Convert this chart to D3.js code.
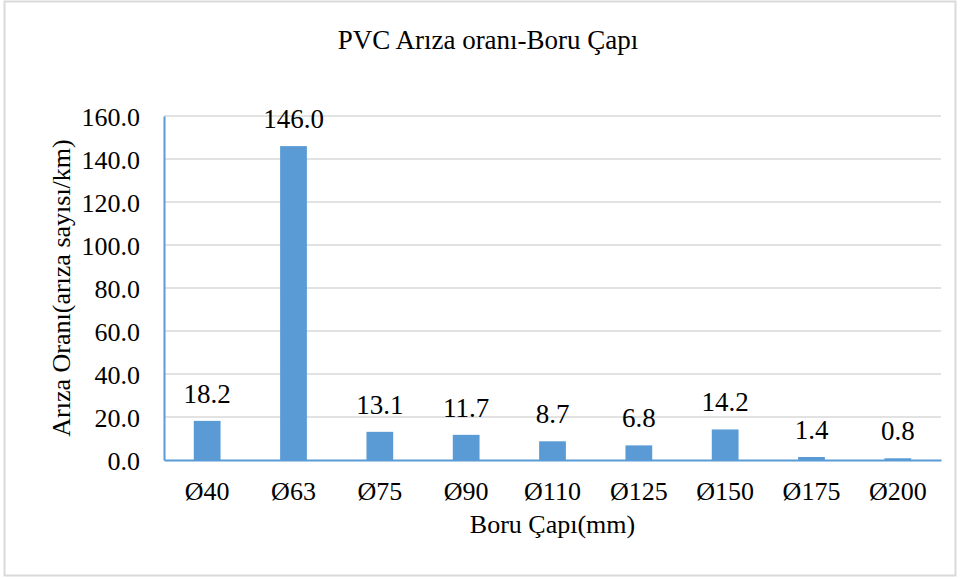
<!DOCTYPE html>
<html>
<head>
<meta charset="utf-8">
<script src="https://cdn.jsdelivr.net/npm/d3@7"></script>
<style>
  body { margin: 0; background: #fff; }
</style>
</head>
<body>
<div id="chart"></div>
<script>
const categories = ['Ø40', 'Ø63', 'Ø75', 'Ø90', 'Ø110', 'Ø125', 'Ø150', 'Ø175', 'Ø200'];
const values = [18.2, 146.0, 13.1, 11.7, 8.7, 6.8, 14.2, 1.4, 0.8];
const yTicks = [0, 20, 40, 60, 80, 100, 120, 140, 160];

const w = 960;
const h = 579;
const padL = 164, padR = 941, padT = 116, padB = 460;
const blue = '#5b9bd5';
const serif = '"Liberation Serif", "Times New Roman", "DejaVu Serif", serif';

const svg = d3.select('#chart')
              .append('svg')
              .attr('width', w)
              .attr('height', h)
              .style('font-family', serif);

// outer frame
svg.append('rect')
   .attr('x', 4.5).attr('y', 1.5)
   .attr('width', 951).attr('height', 574)
   .attr('fill', '#fff')
   .attr('stroke', '#d9d9d9')
   .attr('stroke-width', 2);

//Scales
const xScale = d3.scaleBand()
                 .domain(categories)
                 .range([padL, padR])
                 .paddingInner(0.69)
                 .paddingOuter(0.345);

const yScale = d3.scaleLinear()
                 .domain([0, 160])
                 .range([padB, padT]);

//Gridlines
svg.append('g')
   .selectAll('line')
   .data(yTicks.slice(1))
   .enter()
   .append('line')
   .attr('x1', padL).attr('x2', padR)
   .attr('y1', d => yScale(d)).attr('y2', d => yScale(d))
   .attr('stroke', '#d9d9d9')
   .attr('stroke-width', 1.5);

//Bars
svg.selectAll('rect.bar')
   .data(values)
   .enter()
   .append('rect')
   .attr('class', 'bar')
   .attr('x', (d, i) => xScale(categories[i]))
   .attr('y', d => yScale(d))
   .attr('width', xScale.bandwidth())
   .attr('height', d => padB - yScale(d))
   .attr('fill', blue);

//Data labels
svg.selectAll('text.val')
   .data(values)
   .enter()
   .append('text')
   .attr('class', 'val')
   .attr('x', (d, i) => xScale(categories[i]) + xScale.bandwidth() / 2)
   .attr('y', d => yScale(d) - 18)
   .attr('text-anchor', 'middle')
   .style('font-size', '27px')
   .style('font-family', serif)
   .text(d => d.toFixed(1));

//Axes
const yAxis = d3.axisLeft(yScale)
                .tickValues(yTicks)
                .tickFormat(d3.format('.1f'))
                .tickSize(0)
                .tickPadding(24);

const yG = svg.append('g')
   .attr('transform', `translate(${padL}, 0)`)
   .call(yAxis);
yG.attr('font-family', null);
yG.select('.domain').attr('stroke', blue).attr('stroke-width', 2);
yG.selectAll('text').style('font-size', '26px').style('font-family', serif).attr('dy', '0.35em');

const xAxis = d3.axisBottom(xScale).tickSize(0).tickPadding(22);
const xG = svg.append('g')
   .attr('transform', `translate(0, ${padB})`)
   .call(xAxis);
xG.attr('font-family', null);
xG.select('.domain').attr('stroke', blue).attr('stroke-width', 2);
xG.selectAll('text').style('font-size', '26px').style('font-family', serif);

//Titles
svg.append('text')
   .attr('x', 488)
   .attr('y', 49)
   .attr('text-anchor', 'middle')
   .style('font-size', '27px')
   .text('PVC Arıza oranı-Boru Çapı');

svg.append('text')
   .attr('x', (padL + padR) / 2)
   .attr('y', 533)
   .attr('text-anchor', 'middle')
   .style('font-size', '26px')
   .text('Boru Çapı(mm)');

svg.append('text')
   .attr('transform', 'rotate(-90)')
   .attr('x', -(padT + padB) / 2)
   .attr('y', 70)
   .attr('text-anchor', 'middle')
   .style('font-size', '26px')
   .text('Arıza Oranı(arıza sayısı/km)');
</script>
</body>
</html>
